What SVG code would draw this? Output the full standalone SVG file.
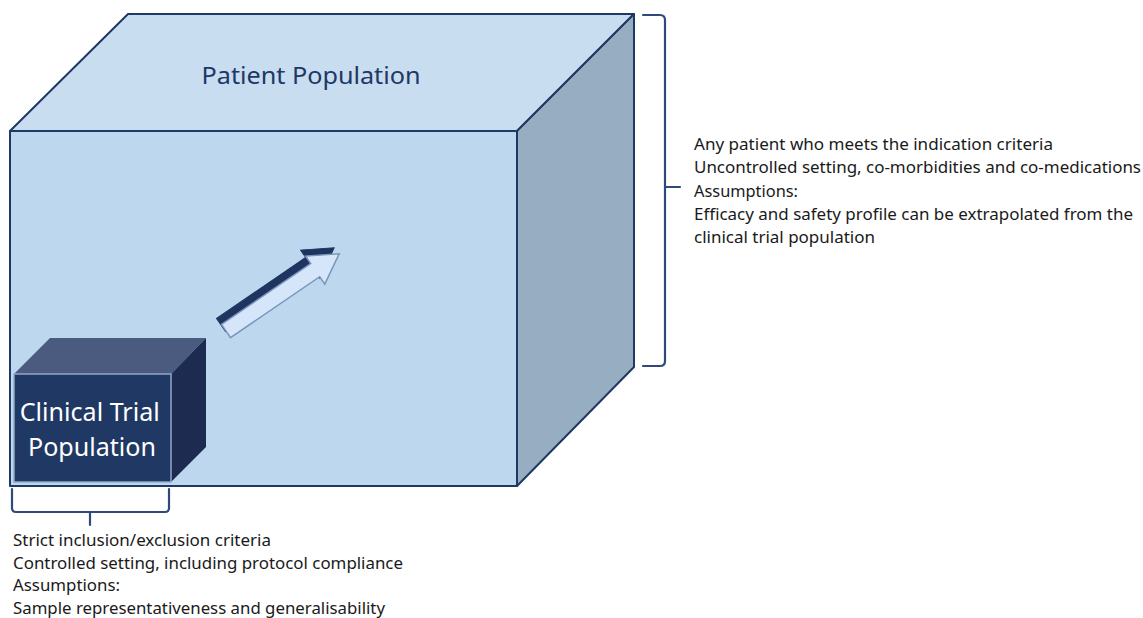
<svg xmlns="http://www.w3.org/2000/svg" width="1143" height="618" viewBox="0 0 1143 618">
<style>
.edge{stroke:#203864;stroke-width:2;stroke-linejoin:round}
.br{fill:none;stroke:#2f4a7a;stroke-width:2.2;stroke-linecap:round;stroke-linejoin:round}
.note{font-family:"Noto Sans","Open Sans",sans-serif;font-size:15.5px;fill:#1a1a1a}
</style>
<rect width="1143" height="618" fill="#ffffff"/>
<g id="patient-population">
<polygon class="edge" points="10,131 128,14 634,14 517,131" fill="#c9ddf1"/>
<polygon class="edge" points="517,131 634,14 634,367 517,486" fill="#97adc2"/>
<rect class="edge" x="10" y="131" width="507" height="355" fill="#bdd7ee"/>
<text x="311" y="84" text-anchor="middle" font-family="'Noto Sans','Open Sans',sans-serif" font-size="23" fill="#203864" textLength="219" lengthAdjust="spacingAndGlyphs">Patient Population</text>
</g>
<g id="clinical-trial-population">
<polygon points="14,374 50,338 206,338 171,374" fill="#4b5b7f"/>
<polygon points="171,374 206,338 206,447 171,482" fill="#1c2b4f"/>
<rect x="14" y="374" width="157" height="108" fill="#203864" stroke="#8fa8c8" stroke-width="1.5"/>
<text font-family="'Noto Sans','Open Sans',sans-serif" font-size="25" fill="#ffffff" text-anchor="middle">
<tspan x="93" y="421" textLength="140" lengthAdjust="spacingAndGlyphs">Clinical Trial</tspan>
<tspan x="92" y="456" textLength="128" lengthAdjust="spacingAndGlyphs">Population</tspan>
</text>
</g>
<g id="arrow">
<polygon points="0,-8 108,-8 108,-17 137,0 108,17 108,8 0,8" fill="#1f3560" stroke="#1f3560" stroke-width="1" transform="translate(221,325) rotate(-34.3)"/>
<polygon points="0,-8 108,-8 108,-17 137,0 108,17 108,8 0,8" fill="#d6e6fa" stroke="#7d95bd" stroke-width="1.5" transform="translate(226,331) rotate(-34.3)"/>
</g>
<g id="connectors">
<path class="br" d="M643,15 L660,15 Q665,15 665,20 L665,361 Q665,366 660,366 L643,366 M665,187 L680,187"/>
<path class="br" d="M12,489 L12,508 Q12,512 16,512 L165,512 Q169,512 169,508 L169,489 M90,512 L90,525"/>
</g>
<g id="patient-notes">
<text class="note" x="694" y="150" textLength="359" lengthAdjust="spacingAndGlyphs">Any patient who meets the indication criteria</text>
<text class="note" x="694" y="173" textLength="447" lengthAdjust="spacingAndGlyphs">Uncontrolled setting, co-morbidities and co-medications</text>
<text class="note" x="694" y="197" textLength="104" lengthAdjust="spacingAndGlyphs">Assumptions:</text>
<text class="note" x="694" y="220" textLength="439" lengthAdjust="spacingAndGlyphs">Efficacy and safety profile can be extrapolated from the</text>
<text class="note" x="694" y="243" textLength="181" lengthAdjust="spacingAndGlyphs">clinical trial population</text>
</g>
<g id="trial-notes">
<text class="note" x="13" y="546" textLength="258" lengthAdjust="spacingAndGlyphs">Strict inclusion/exclusion criteria</text>
<text class="note" x="13" y="569" textLength="390" lengthAdjust="spacingAndGlyphs">Controlled setting, including protocol compliance</text>
<text class="note" x="13" y="591" textLength="107" lengthAdjust="spacingAndGlyphs">Assumptions:</text>
<text class="note" x="13" y="614" textLength="372" lengthAdjust="spacingAndGlyphs">Sample representativeness and generalisability</text>
</g>
</svg>
